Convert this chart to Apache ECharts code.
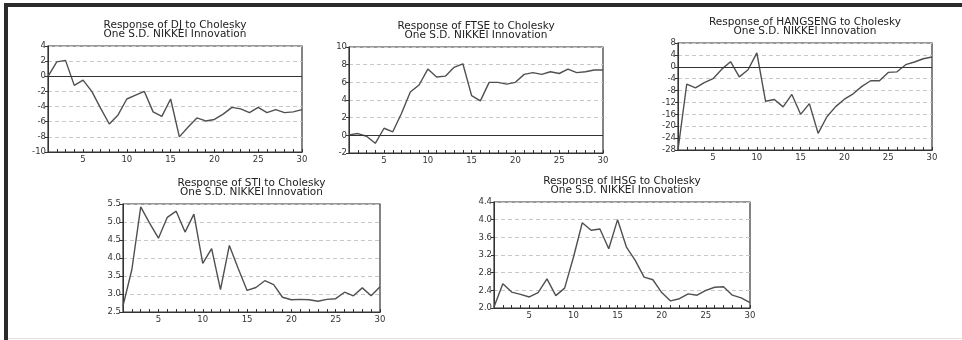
<!DOCTYPE html>
<html>
<head>
<meta charset="utf-8">
<script src="https://cdn.jsdelivr.net/npm/echarts@6/dist/echarts.min.js"></script>
<style>
  html, body { margin: 0; padding: 0; background: #fff; }
  #wrap { position: relative; width: 962px; height: 340px; overflow: hidden; }
  #chart { position: absolute; left: 0; top: 0; width: 962px; height: 340px; }
  #frame {
    position: absolute; left: 4px; top: 3px; width: 970px; height: 340px;
    border-top: 4px solid #2b2b2b; border-left: 4px solid #2b2b2b;
    pointer-events: none;
  }
  #baseline { position: absolute; left: 8px; top: 338px; width: 962px; height: 1px; background: #e2e2e2; }
</style>
</head>
<body>
<div id="wrap">
  <div id="chart"></div>
  <div id="frame"></div>
  <div id="baseline"></div>
</div>
<script>
// periods
const periods = ["1","2","3","4","5","6","7","8","9","10","11","12","13","14","15",
  "16","17","18","19","20","21","22","23","24","25","26","27","28","29","30"];

// responses to one S.D. NIKKEI innovation
const dj = [0, 1.9, 2.1, -1.2, -0.5, -2.0, -4.2, -6.3, -5.1, -3.0, -2.5, -2.0, -4.7, -5.3, -3.0,
  -8.0, -6.7, -5.5, -5.9, -5.7, -5.0, -4.1, -4.3, -4.8, -4.1, -4.8, -4.4, -4.8, -4.7, -4.4];
const ftse = [0.05, 0.2, -0.1, -0.9, 0.8, 0.4, 2.5, 4.9, 5.7, 7.5, 6.6, 6.7, 7.7, 8.1, 4.5,
  3.9, 6.0, 6.0, 5.8, 6.0, 6.9, 7.1, 6.9, 7.2, 7.0, 7.5, 7.1, 7.2, 7.4, 7.4];
const hangseng = [-28, -5.8, -7.1, -5.3, -4.0, -0.8, 1.7, -3.4, -1.0, 4.7, -11.6, -11.0, -13.5, -9.3, -16.0,
  -12.4, -22.4, -16.8, -13.4, -10.9, -9.1, -6.6, -4.7, -4.7, -1.9, -1.7, 0.7, 1.6, 2.7, 3.3];
const sti = [2.67, 3.68, 5.42, 4.97, 4.55, 5.13, 5.30, 4.72, 5.22, 3.85, 4.26, 3.12, 4.35, 3.71, 3.10,
  3.18, 3.37, 3.26, 2.91, 2.84, 2.85, 2.84, 2.80, 2.85, 2.87, 3.05, 2.95, 3.17, 2.95, 3.20];
const ihsg = [2.02, 2.55, 2.36, 2.31, 2.25, 2.35, 2.66, 2.28, 2.45, 3.15, 3.93, 3.76, 3.79, 3.34, 4.00,
  3.38, 3.08, 2.70, 2.64, 2.35, 2.16, 2.21, 2.32, 2.29, 2.40, 2.47, 2.48, 2.29, 2.23, 2.12];

const names = ["DJ", "FTSE", "HANGSENG", "STI", "IHSG"];
const values = [dj, ftse, hangseng, sti, ihsg];
const yMin = [-10, -2, -28, 2.5, 2.0];
const yMax = [4, 10, 8, 5.5, 4.4];
const yStep = [2, 2, 4, 0.5, 0.4];
const yDecimals = [0, 0, 0, 1, 1];
const hasZero = [true, true, true, false, false];

// panel boxes: left, top, width, height
const boxes = [
  [48, 46, 254, 106],
  [349, 47, 254, 106],
  [678, 43, 254, 107],
  [123, 204, 257, 108],
  [494, 202, 256, 106]
];

const font = "'DejaVu Sans', Arial, sans-serif";
const chart = echarts.init(document.getElementById("chart"));

const grid = [], xAxis = [], yAxis = [], series = [], title = [];
boxes.forEach((b, i) => {
  grid.push({
    left: b[0], top: b[1], width: b[2], height: b[3],
    show: true, borderColor: "#333", borderWidth: 1.2, backgroundColor: "transparent"
  });
  title.push({
    text: "Response of " + names[i] + " to Cholesky\nOne S.D. NIKKEI Innovation",
    left: b[0] + b[2] / 2, top: b[1] - 25, textAlign: "center", padding: 0,
    textStyle: { fontFamily: font, fontSize: 10.5, fontWeight: "normal", color: "#222", lineHeight: 9 }
  });
  xAxis.push({
    gridIndex: i, type: "category", data: periods, boundaryGap: false,
    axisLine: { onZero: false, lineStyle: { color: "#333", width: 1 } },
    axisTick: { inside: true, length: 3, interval: 0, lineStyle: { color: "#333" } },
    axisLabel: {
      interval: (idx, v) => Number(v) % 5 === 0,
      fontFamily: font, fontSize: 8.5, color: "#333", margin: 3
    },
    splitLine: { show: false }
  });
  yAxis.push({
    gridIndex: i, type: "value", min: yMin[i], max: yMax[i], interval: yStep[i],
    axisLine: { show: true, lineStyle: { color: "#333", width: 1 } },
    axisTick: { show: true, length: 3, lineStyle: { color: "#333" } },
    axisLabel: {
      fontFamily: font, fontSize: 8.5, color: "#333", margin: 2,
      formatter: v => v.toFixed(yDecimals[i])
    },
    splitLine: { show: true, lineStyle: { color: "#c8c8c8", type: [4, 3], width: 1 } }
  });
  series.push({
    type: "line", xAxisIndex: i, yAxisIndex: i, data: values[i],
    symbol: "none", smooth: false, animation: false,
    lineStyle: { color: "#505050", width: 1.4 },
    markLine: hasZero[i] ? {
      silent: true, symbol: "none", label: { show: false },
      lineStyle: { color: "#333", type: "solid", width: 1 },
      data: [{ yAxis: 0 }]
    } : undefined
  });
});

chart.setOption({
  backgroundColor: "#fff",
  animation: false,
  title, grid, xAxis, yAxis, series
});
</script>
</body>
</html>
